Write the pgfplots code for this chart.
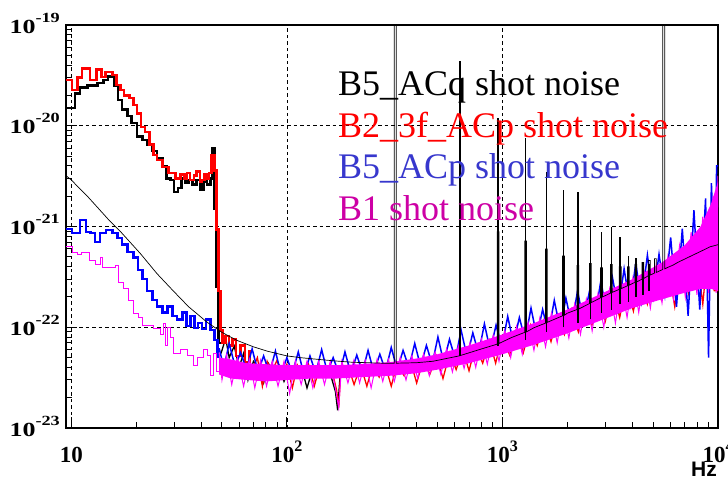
\documentclass[border=0pt]{standalone}
\usepackage{fontspec}
\usepackage{pgfplots}
\pgfplotsset{compat=1.18}
\setmainfont{Liberation Serif}
\newfontfamily\yfont[FakeStretch=1.3]{Liberation Serif}
\newfontfamily\hzfont{Liberation Sans}
\newcommand{\ylab}[1]{{\yfont\bfseries\fontsize{20}{20}\selectfont 10\raisebox{11pt}{\fontsize{14}{14}\selectfont #1}}}
\newcommand{\xlab}[1]{{\bfseries\fontsize{23}{23}\selectfont 10\raisebox{11pt}{\fontsize{16}{16}\selectfont #1}}}
\definecolor{legblue}{RGB}{55,55,205}
\definecolor{legmag}{RGB}{205,0,165}
\definecolor{mag}{RGB}{255,0,255}
\definecolor{pblue}{RGB}{0,0,255}
\definecolor{pred}{RGB}{255,0,0}
\begin{document}
\begin{tikzpicture}
\begin{axis}[
  at={(0pt,0pt)}, anchor=south west,
  scale only axis, width=652pt, height=403pt,
  xmode=log, ymode=log,
  xmin=9.45, xmax=10000, ymin=1e-23, ymax=1e-19,
  axis line style={line width=1.4pt},
  tick align=inside, xtick pos=bottom, ytick pos=left,
  major tick length=11pt, minor tick length=6pt,
  every tick/.style={black, line width=1pt},
  xtick={10,100,1000,10000},
  xticklabels={{\bfseries\fontsize{23}{23}\selectfont 10},\xlab{2},\xlab{3},\xlab{4}},
  ytick={1e-23,1e-22,1e-21,1e-20,1e-19},
  yticklabels={\ylab{-23},\ylab{-22},\ylab{-21},\ylab{-20},\ylab{-19}},
  minor xtick={20,30,40,50,60,70,80,90,200,300,400,500,600,700,800,900,2000,3000,4000,5000,6000,7000,8000,9000},
  minor ytick={2e-23,3e-23,4e-23,5e-23,6e-23,7e-23,8e-23,9e-23,2e-22,3e-22,4e-22,5e-22,6e-22,7e-22,8e-22,9e-22,2e-21,3e-21,4e-21,5e-21,6e-21,7e-21,8e-21,9e-21,2e-20,3e-20,4e-20,5e-20,6e-20,7e-20,8e-20,9e-20},
  xmajorgrids, ymajorgrids,
  major grid style={black, line width=0.7pt, dash pattern=on 3.5pt off 3pt},
  xticklabel style={anchor=base, inner sep=0pt, yshift=-34pt},
  yticklabel style={anchor=base east, inner sep=0pt, xshift=-6pt, yshift=-8pt},
  xlabel={\hzfont\bfseries\fontsize{21}{21}\selectfont Hz},
  xlabel style={at={(rel axis cs:1,0)}, anchor=north east, inner sep=0pt, yshift=-34pt, xshift=-1pt},
  unbounded coords=jump,
]
% ---------- B5_ACq (black) ----------
\addplot[black, line width=2.5pt, const plot] coordinates {
(9.45,1.5e-20)(10.4,2.1e-20)(11.0,2.4e-20)(11.9,2.5e-20)(13.2,2.65e-20)(14.1,2.85e-20)(14.8,3.1e-20)(15.8,2.5e-20)(16.5,1.8e-20)(17.2,1.45e-20)(18.2,1.25e-20)(19.0,1.06e-20)(20.2,7.8e-21)(21.4,7.2e-21)(22.5,6.5e-21)(23.8,5.6e-21)(25.0,4.8e-21)(26.5,4.0e-21)(27.6,3.0e-21)(28.8,2.9e-21)(30.0,2.2e-21)(31.3,2.4e-21)(32.4,3.0e-21)(33.8,2.7e-21)(34.9,2.9e-21)(36.5,2.6e-21)(38.0,2.9e-21)(39.7,2.3e-21)(41.0,2.8e-21)(42.7,2.6e-21)(44.2,3.0e-21)(45.1,6.0e-21)(46.1,1.5e-21)(47.1,2.5e-22)(48.1,7e-23)(49.5,7e-23)
};
\addplot[black, line width=1.3pt] coordinates {
(49.5,5.5e-23)(52,7.8e-23)(54,5e-23)(57,6.5e-23)(60,4e-23)(63,5.5e-23)(66,3.0e-23)(70,4.6e-23)(74,3.9e-23)(78,2.8e-23)(82,4.4e-23)(87,3.6e-23)(92,4.2e-23)(97,2.9e-23)(103,4.0e-23)(110,3.4e-23)(117,4.0e-23)(124,2.5e-23)(132,3.9e-23)(140,3.6e-23)(150,3.9e-23)(160,3.3e-23)(168,2.3e-23)(172,1.5e-23)(177,3.6e-23)(190,4.0e-23)(200,3.4e-23)(215,4.0e-23)(230,3.3e-23)(245,4.1e-23)(260,3.6e-23)(280,4.2e-23)(300,3.6e-23)(320,4.2e-23)(350,3.7e-23)(380,4.4e-23)(420,3.9e-23)(460,4.7e-23)(500,4.1e-23)(550,5.0e-23)(600,4.5e-23)(660,5.4e-23)(720,4.9e-23)(800,6.0e-23)(880,5.4e-23)(960,6.8e-23)(1050,6.0e-23)(1150,7.6e-23)(1260,6.8e-23)(1380,8.6e-23)(1500,7.6e-23)(1650,9.8e-23)(1800,8.8e-23)(2000,1.12e-22)(2200,1.0e-22)(2400,1.3e-22)(2650,1.15e-22)(2900,1.55e-22)(3200,1.4e-22)(3500,1.85e-22)(3850,1.65e-22)(4200,2.15e-22)(4600,1.95e-22)(5000,2.5e-22)(5500,2.2e-22)(6000,2.9e-22)(6600,2.5e-22)(7200,3.3e-22)(8000,2.8e-22)(8800,3.8e-22)(9500,3.2e-22)(10000,3.2e-22)
};
% ---------- B2_3f_ACp (red) ----------
\addplot[pred, line width=2.5pt, const plot] coordinates {
(9.45,2.85e-20)(10.1,2.27e-20)(10.7,3.0e-20)(11.2,3.7e-20)(12.2,2.85e-20)(13.1,3.6e-20)(13.8,3.05e-20)(14.4,3.4e-20)(15.5,3.2e-20)(16.2,2.55e-20)(16.9,2.27e-20)(17.6,2.0e-20)(18.6,1.88e-20)(19.4,1.6e-20)(20.2,1.33e-20)(21.1,9.7e-21)(22.0,8.7e-21)(23.0,6.5e-21)(24.0,5.1e-21)(25.0,4.6e-21)(26.5,3.9e-21)(28.2,3.4e-21)(30.4,3.0e-21)(32.1,3.3e-21)(33.5,3.0e-21)(34.5,3.4e-21)(35.6,2.9e-21)(37,3.2e-21)(38.0,3.5e-21)(39.5,2.8e-21)(40.5,2.9e-21)(41.5,3.3e-21)(42.6,3.0e-21)(43.5,3.4e-21)(44.6,5.1e-21)(46.1,3.6e-21)(47.1,9.3e-22)(48.1,2.3e-22)(49.2,9.4e-23)(50.2,7e-23)(52,8.2e-23)(54,6.6e-23)(56,7.6e-23)(58,5.2e-23)(61,6.6e-23)(64,4.5e-23)(67,5.8e-23)(70,5.8e-23)
};
\addplot[pred, line width=1.3pt] coordinates {
(70,4.0e-23)(73,5.0e-23)(77,2.6e-23)(81,4.6e-23)(85,3.6e-23)(90,4.7e-23)(95,3.2e-23)(100,4.3e-23)(106,2.5e-23)(112,4.2e-23)(119,3.3e-23)(126,4.3e-23)(134,2.6e-23)(142,4.1e-23)(150,3.5e-23)(160,4.1e-23)(170,2.4e-23)(174,1.6e-23)(178,3.8e-23)(192,4.2e-23)(205,2.7e-23)(220,4.2e-23)(235,2.6e-23)(250,4.2e-23)(268,3.2e-23)(285,4.3e-23)(305,2.6e-23)(325,4.4e-23)(350,3.3e-23)(375,4.6e-23)(400,2.8e-23)(430,4.8e-23)(460,3.4e-23)(495,5.2e-23)(530,3.1e-23)(570,5.6e-23)(610,3.8e-23)(655,6.0e-23)(700,3.7e-23)(750,6.6e-23)(810,4.4e-23)(870,7.4e-23)(930,4.4e-23)(1000,8.2e-23)(1080,5.3e-23)(1160,9.2e-23)(1250,5.6e-23)(1350,1.05e-22)(1450,6.6e-23)(1560,1.18e-22)(1680,7.2e-23)(1800,1.32e-22)(1940,8.5e-23)(2090,1.5e-22)(2250,9.0e-23)(2420,1.7e-22)(2600,1.05e-22)(2800,2.0e-22)(3000,1.15e-22)(3250,2.3e-22)(3500,1.25e-22)(3750,2.7e-22)(4050,1.45e-22)(4350,3.1e-22)(4700,1.7e-22)(5050,3.6e-22)(5450,1.9e-22)(5850,4.2e-22)(6300,1.6e-22)(6800,5.0e-22)(7300,2.2e-22)(7900,6.0e-22)(8500,1.7e-22)(9100,8.0e-22)(9600,2.3e-22)(10000,2.3e-22)
};
% ---------- B5_ACp (blue) ----------
\addplot[pblue, line width=2.5pt, const plot] coordinates {
(9.45,9.4e-22)(10.1,8.6e-22)(11.0,1.16e-21)(11.7,8.8e-22)(12.3,8.6e-22)(12.9,7.0e-22)(13.6,8.6e-22)(14.5,9.2e-22)(15.5,8.6e-22)(16.4,7.7e-22)(17.2,6.6e-22)(18.2,5.6e-22)(19.4,4.9e-22)(20.4,3.7e-22)(21.4,3.0e-22)(22.5,2.3e-22)(23.8,1.86e-22)(25.0,1.6e-22)(26.5,1.4e-22)(27.9,1.6e-22)(29.4,1.3e-22)(31.0,1.2e-22)(32.8,1.4e-22)(34.2,1.03e-22)(35.7,1.3e-22)(37.2,9.8e-23)(38.8,1.1e-22)(40.5,9.6e-23)(42.2,1.2e-22)(44.2,9.4e-23)(46.1,7.5e-23)(47.6,5.1e-23)(48.5,5.1e-23)
};
\addplot[pblue, line width=1.5pt] coordinates {
(48.5,6.2e-23)(51,4.0e-23)(54,6.9e-23)(57.5,4.1e-23)(61,5.6e-23)(65,3.8e-23)(69,6.1e-23)(73.5,3.6e-23)(78,5.2e-23)(83,3.5e-23)(88.5,5.8e-23)(94,3.4e-23)(100,5.0e-23)(106,3.5e-23)(113,5.7e-23)(120,3.4e-23)(128,5.2e-23)(136,3.5e-23)(145,6.0e-23)(154,3.6e-23)(164,5.0e-23)(175,3.4e-23)(186,5.7e-23)(198,3.5e-23)(211,5.3e-23)(224,3.6e-23)(238,5.9e-23)(253,3.6e-23)(270,5.4e-23)(287,3.7e-23)(305,6.3e-23)(325,3.8e-23)(346,5.9e-23)(368,4.0e-23)(392,6.9e-23)(417,4.1e-23)(444,6.6e-23)(472,4.3e-23)(502,8.0e-23)(534,4.5e-23)(568,7.6e-23)(605,4.8e-23)(643,9.4e-23)(685,5.1e-23)(729,8.8e-23)(775,5.5e-23)(825,1.08e-22)(878,5.9e-23)(934,1.05e-22)(994,6.4e-23)(1058,1.28e-22)(1126,6.9e-23)(1198,1.25e-22)(1275,7.5e-23)(1357,1.55e-22)(1444,8.1e-23)(1536,1.5e-22)(1635,8.8e-23)(1740,1.85e-22)(1851,9.6e-23)(1970,1.95e-22)(2096,1.05e-22)(2231,2.3e-22)(2374,1.15e-22)(2526,2.2e-22)(2688,1.25e-22)(2861,2.9e-22)(3044,1.38e-22)(3240,3.1e-22)(3447,1.5e-22)(3668,3.8e-22)(3904,1.65e-22)(4154,4.3e-22)(4420,1.8e-22)(4704,5.2e-22)(5005,2.0e-22)(5326,5.3e-22)(5668,2.1e-22)(6031,7.8e-22)(6418,1.6e-22)(6829,9.5e-22)(7267,1.3e-22)(7733,1.45e-21)(8229,1.5e-22)(8757,1.9e-21)(9040,5e-23)(9150,2.4e-22)(9318,2.7e-21)(9700,2.6e-22)(9850,4.0e-21)(10000,4.0e-21)
};
% ---------- B1 (magenta) ----------
\addplot[mag, line width=1pt, const plot] coordinates {
(9.45,6.3e-22)(10.1,5.5e-22)(10.7,5.3e-22)(11.2,5.5e-22)(12.2,4.65e-22)(12.9,4.2e-22)(13.6,4.9e-22)(13.9,3.9e-22)(16.0,4.1e-22)(16.5,2.8e-22)(17.4,2.45e-22)(18.4,1.86e-22)(19.4,1.38e-22)(20.4,1.26e-22)(21.4,1.05e-22)(24.0,9.8e-23)(25.9,8.4e-23)(26.7,1.1e-22)(27.3,6.6e-23)(27.9,1.0e-22)(28.8,8e-23)(29.7,5.5e-23)(32.0,6.0e-23)(34.5,5.2e-23)(36.8,4.2e-23)(38.4,5.0e-23)(41.0,6.0e-23)(42.7,5.3e-23)(44.2,3.3e-23)(45.6,5.5e-23)(47,3.6e-23)(48.5,3.6e-23)
};
% dense band of B1 between its upper and lower envelope
\addplot[fill=mag, draw=none] coordinates {
(48.5,5.0e-23)(55,4.8e-23)(65,4.4e-23)(80,4.3e-23)(100,4.2e-23)(130,4.2e-23)(170,4.2e-23)(220,4.3e-23)(300,4.5e-23)(400,4.9e-23)(500,5.4e-23)(700,6.6e-23)(1000,8.5e-23)(1400,1.1e-22)(2000,1.5e-22)(2800,2.1e-22)(4000,3.0e-22)(5500,4.4e-22)(7000,6.5e-22)(8300,1.0e-21)(9300,1.7e-21)(10000,2.8e-21)
(10000,2.3e-22)(9300,2.4e-22)(8300,2.4e-22)(7000,2.2e-22)(5500,1.9e-22)(4000,1.55e-22)(2800,1.15e-22)(2000,8.7e-23)(1400,6.7e-23)(1000,5.4e-23)(700,4.4e-23)(500,3.8e-23)(400,3.5e-23)(300,3.3e-23)(220,3.2e-23)(170,3.1e-23)(130,3.1e-23)(100,3.0e-23)(80,2.9e-23)(65,3.0e-23)(55,3.1e-23)(48.5,3.4e-23)
};
\addplot[mag, line width=1pt] coordinates {
(48.5,5.6e-23)(50,3.0e-23)(52.5,5.3e-23)(55.5,2.7e-23)(59,5.0e-23)(63,2.6e-23)(67,4.8e-23)(71,2.5e-23)(75.5,4.7e-23)(80.5,2.6e-23)(85.5,4.6e-23)(91,2.6e-23)(97,4.6e-23)(103,2.2e-23)(109.5,4.6e-23)(116.5,2.7e-23)(124,4.6e-23)(132,2.5e-23)(140.5,4.6e-23)(149.5,2.7e-23)(159,4.6e-23)(169,2.3e-23)(174,1.6e-23)(180,4.6e-23)(192,2.8e-23)(204.5,4.7e-23)(217.5,2.8e-23)(231,4.7e-23)(246,2.5e-23)(262,4.8e-23)(278.5,2.9e-23)(296,4.8e-23)(315,2.9e-23)(335.5,5.0e-23)(357,3.0e-23)(380,5.2e-23)(404.5,3.1e-23)(430.5,5.4e-23)(458,3.3e-23)(487,5.7e-23)(518,3.4e-23)(551,6.1e-23)(586,3.6e-23)(624,6.5e-23)(664,3.9e-23)(707,7.0e-23)(752,4.0e-23)(800,7.6e-23)(851,4.3e-23)(906,8.3e-23)(964,4.6e-23)(1026,9.3e-23)(1092,5.0e-23)(1162,1.02e-22)(1236,5.4e-23)(1316,1.12e-22)(1400,5.9e-23)(1490,1.23e-22)(1585,6.4e-23)(1687,1.36e-22)(1795,7.0e-23)(1910,1.52e-22)(2033,7.8e-23)(2163,1.7e-22)(2302,8.5e-23)(2450,1.9e-22)(2607,9.2e-23)(2774,2.15e-22)(2952,1.0e-22)(3142,2.4e-22)(3343,1.1e-22)(3558,2.7e-22)(3786,1.25e-22)(4029,3.1e-22)(4288,1.4e-22)(4563,3.5e-22)(4856,1.55e-22)(5167,4.1e-22)(5499,1.75e-22)(5852,5.0e-22)(6227,1.9e-22)(6627,6.4e-22)(7052,2.0e-22)(7505,8.8e-22)(7986,2.1e-22)(8499,1.25e-21)(9044,2.2e-22)(9500,2.0e-21)(9800,2.2e-22)(10000,3.2e-21)
};
% ---------- B5_ACq line peaks (black) ----------
\addplot[black, line width=1.6pt] coordinates {
(636,5.2e-23)(636,4.4e-20)(636,nan)
(954,6.5e-23)(954,1.2e-20)(954,nan)
(1280,7.5e-23)(1280,7.5e-21)(1280,nan)
(1600,9e-23)(1600,3.5e-21)(1600,nan)
(1920,1.0e-22)(1920,2.3e-21)(1920,nan)
(2240,1.1e-22)(2240,2.2e-21)(2240,nan)
(2560,1.2e-22)(2560,1.16e-21)(2560,nan)
(2880,1.4e-22)(2880,8.8e-22)(2880,nan)
(3200,1.5e-22)(3200,1.0e-21)(3200,nan)
(3520,1.7e-22)(3520,7.9e-22)(3520,nan)
(3840,1.8e-22)(3840,5.1e-22)(3840,nan)
(4160,2.0e-22)(4160,4.9e-22)(4160,nan)
(4480,2.1e-22)(4480,4.4e-22)(4480,nan)
(4800,2.3e-22)(4800,4.2e-22)
};
% ---------- model curve (thin black) ----------
\addplot[black, line width=0.7pt] coordinates {
(9.45,3.2e-21)(10,2.9e-21)(11,2.35e-21)(12,1.95e-21)(13.6,1.45e-21)(15,1.15e-21)(17,8.8e-22)(20.9,5.4e-22)(25,3.4e-22)(29.7,2.3e-22)(35,1.6e-22)(42.7,1.12e-22)(50,8.9e-23)(58.8,7.4e-23)(70,6.4e-23)(81,5.8e-23)(100,5.2e-23)(115,5.0e-23)(140,4.8e-23)(164,4.65e-23)(200,4.5e-23)(236,4.45e-23)(280,4.4e-23)(315,4.4e-23)(315,2e-19)(322,2e-19)(322,4.4e-23)(400,4.45e-23)(476,4.6e-23)(550,4.9e-23)(630,5.2e-23)(685,5.5e-23)(800,6.1e-23)(945,6.8e-23)(945,8.9e-22)(963,8.9e-22)(963,6.9e-23)(1100,7.9e-23)(1268,8.9e-23)(1268,7.2e-22)(1292,7.2e-22)(1292,9.0e-23)(1400,9.9e-23)(1585,1.1e-22)(1585,6.0e-22)(1615,6.0e-22)(1615,1.12e-22)(1900,1.3e-22)(1900,5.1e-22)(1940,5.1e-22)(1940,1.32e-22)(2000,1.38e-22)(2218,1.5e-22)(2218,4.1e-22)(2262,4.1e-22)(2262,1.52e-22)(2535,1.72e-22)(2535,4.3e-22)(2585,4.3e-22)(2585,1.76e-22)(2850,1.96e-22)(2850,3.9e-22)(2910,3.9e-22)(2910,2.0e-22)(3170,2.18e-22)(3170,4.2e-22)(3230,4.2e-22)(3230,2.22e-22)(3485,2.38e-22)(3485,4.0e-22)(3555,4.0e-22)(3555,2.42e-22)(3800,2.58e-22)(3800,4.0e-22)(3880,4.0e-22)(3880,2.62e-22)(4050,2.75e-22)(4120,2.78e-22)(4120,4.2e-22)(4200,4.2e-22)(4200,2.82e-22)(4435,3.0e-22)(4435,4.4e-22)(4525,4.4e-22)(4525,3.05e-22)(4750,3.25e-22)(4750,4.6e-22)(4850,4.6e-22)(4850,3.3e-22)(5070,3.45e-22)(5070,4.8e-22)(5170,4.8e-22)(5170,3.5e-22)(5540,3.75e-22)(5540,2e-19)(5660,2e-19)(5660,3.8e-22)(5800,3.9e-22)(6200,4.15e-22)(6500,4.4e-22)(7000,4.75e-22)(7500,5.1e-22)(8500,5.8e-22)(9200,6.3e-22)(10000,6.6e-22)
};
\node[anchor=base west, inner sep=0pt, text=black, font=\fontsize{36}{36}\selectfont] at (rel axis cs:0.417,0.826) {B5\_ACq shot noise};
\node[anchor=base west, inner sep=0pt, text=red, font=\fontsize{36}{36}\selectfont] at (rel axis cs:0.417,0.722) {B2\_3f\_ACp shot noise};
\node[anchor=base west, inner sep=0pt, text=legblue, font=\fontsize{36}{36}\selectfont] at (rel axis cs:0.417,0.620) {B5\_ACp shot noise};
\node[anchor=base west, inner sep=0pt, text=legmag, font=\fontsize{36}{36}\selectfont] at (rel axis cs:0.417,0.516) {B1 shot noise};
\end{axis}
\pgfresetboundingbox
\useasboundingbox (-66pt,-49pt) rectangle (662pt,428pt);
\end{tikzpicture}
\end{document}
